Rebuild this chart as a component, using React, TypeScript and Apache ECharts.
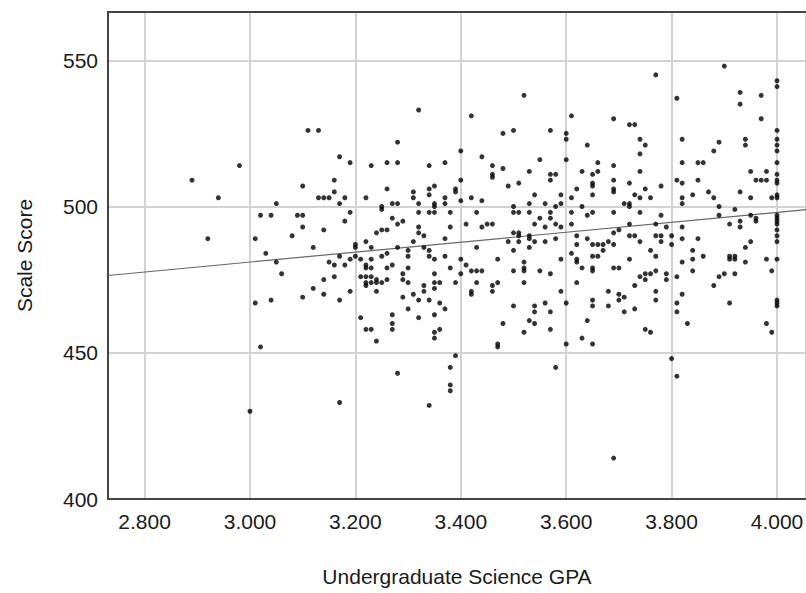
import React, { useEffect, useRef } from "react";
import * as echarts from "echarts";

// Axis ticks
const xTickValues = [2.8, 3.0, 3.2, 3.4, 3.6, 3.8, 4.0];
const yTickValues = [400, 450, 500, 550];
const xAxisName = "Undergraduate Science GPA";
const yAxisName = "Scale Score";

// Fit line: score = intercept + slope * GPA
const fitIntercept = 430.0;
const fitSlope = 17.0;

// [Undergraduate Science GPA, Scale Score]
const studentsBelow325: [number, number][] = [
  [2.89, 509], [2.92, 489], [2.94, 503], [2.98, 514], [3.0, 430], [3.01, 489], [3.01, 467], [3.02, 497],
  [3.02, 452], [3.03, 484], [3.04, 497], [3.04, 468], [3.05, 501], [3.05, 481], [3.06, 477], [3.08, 490],
  [3.09, 497], [3.1, 497], [3.1, 507], [3.1, 493], [3.1, 469], [3.11, 526], [3.12, 486], [3.12, 472],
  [3.13, 526], [3.13, 503], [3.14, 503], [3.14, 492], [3.14, 475], [3.14, 470], [3.15, 503], [3.15, 481],
  [3.16, 509], [3.16, 505], [3.16, 480], [3.16, 476], [3.17, 517], [3.17, 501], [3.17, 483], [3.17, 468],
  [3.17, 433], [3.18, 503], [3.18, 495], [3.18, 480], [3.19, 515], [3.19, 498], [3.19, 482], [3.19, 471],
  [3.2, 487], [3.2, 486], [3.2, 483], [3.21, 482], [3.21, 476], [3.21, 462], [3.22, 503], [3.22, 488],
  [3.22, 480], [3.22, 479], [3.22, 476], [3.22, 474], [3.22, 473], [3.22, 458], [3.23, 514], [3.23, 486],
  [3.23, 482], [3.23, 479], [3.23, 476], [3.23, 474], [3.23, 458], [3.24, 491], [3.24, 475], [3.24, 474],
  [3.24, 471], [3.24, 454],
];
const students325to350: [number, number][] = [
  [3.25, 500], [3.25, 499], [3.25, 492], [3.25, 483], [3.25, 474], [3.26, 515], [3.26, 506], [3.26, 492],
  [3.26, 484], [3.26, 479], [3.26, 475], [3.27, 501], [3.27, 496], [3.27, 480], [3.27, 463], [3.27, 460],
  [3.27, 458], [3.28, 522], [3.28, 515], [3.28, 501], [3.28, 494], [3.28, 486], [3.28, 443], [3.29, 495],
  [3.29, 477], [3.29, 475], [3.29, 469], [3.3, 485], [3.3, 483], [3.3, 479], [3.3, 474], [3.3, 465],
  [3.31, 505], [3.31, 503], [3.31, 488], [3.31, 470], [3.32, 533], [3.32, 501], [3.32, 498], [3.32, 493],
  [3.32, 491], [3.32, 468], [3.32, 462], [3.33, 490], [3.33, 486], [3.33, 473], [3.33, 471], [3.34, 514],
  [3.34, 506], [3.34, 504], [3.34, 498], [3.34, 485], [3.34, 483], [3.34, 468], [3.34, 432], [3.35, 507],
  [3.35, 501], [3.35, 500], [3.35, 498], [3.35, 482], [3.35, 477], [3.35, 474], [3.35, 472], [3.35, 463],
  [3.35, 457], [3.35, 455], [3.36, 474], [3.36, 467], [3.36, 458], [3.37, 515], [3.37, 503], [3.37, 501],
  [3.37, 489], [3.37, 483], [3.37, 465], [3.38, 498], [3.38, 493], [3.38, 479], [3.38, 445], [3.38, 439],
  [3.38, 437], [3.39, 506], [3.39, 505], [3.39, 474], [3.39, 449], [3.4, 519], [3.4, 509], [3.4, 502],
  [3.4, 482], [3.4, 477], [3.41, 494], [3.41, 480], [3.42, 531], [3.42, 503], [3.42, 478], [3.42, 471],
  [3.42, 470], [3.43, 498], [3.43, 486], [3.43, 478], [3.43, 474], [3.44, 517], [3.44, 502], [3.44, 493],
  [3.44, 478], [3.45, 494], [3.46, 514], [3.46, 511], [3.46, 510], [3.46, 494], [3.46, 473], [3.46, 471],
  [3.47, 482], [3.47, 474], [3.47, 453], [3.47, 452], [3.48, 525], [3.48, 513], [3.48, 460], [3.49, 507],
  [3.49, 488],
];
const students350to375: [number, number][] = [
  [3.5, 526], [3.5, 500], [3.5, 498], [3.5, 491], [3.5, 485], [3.5, 478], [3.5, 466], [3.51, 508],
  [3.51, 498], [3.51, 491], [3.51, 490], [3.51, 488], [3.52, 538], [3.52, 481], [3.52, 479], [3.52, 478],
  [3.52, 474], [3.52, 457], [3.53, 512], [3.53, 501], [3.53, 498], [3.53, 490], [3.53, 489], [3.53, 486],
  [3.53, 461], [3.54, 504], [3.54, 494], [3.54, 488], [3.54, 466], [3.54, 464], [3.54, 460], [3.55, 516],
  [3.55, 496], [3.55, 478], [3.56, 501], [3.56, 493], [3.56, 488], [3.56, 467], [3.57, 526], [3.57, 511],
  [3.57, 509], [3.57, 498], [3.57, 496], [3.57, 477], [3.57, 464], [3.57, 458], [3.58, 511], [3.58, 500],
  [3.58, 494], [3.58, 489], [3.58, 445], [3.59, 504], [3.59, 501], [3.59, 493], [3.59, 482], [3.59, 471],
  [3.6, 525], [3.6, 523], [3.6, 516], [3.6, 467], [3.6, 453], [3.61, 531], [3.61, 503], [3.61, 498],
  [3.61, 494], [3.61, 484], [3.62, 506], [3.62, 490], [3.62, 487], [3.62, 482], [3.62, 481], [3.62, 474],
  [3.63, 512], [3.63, 500], [3.63, 479], [3.63, 455], [3.64, 521], [3.64, 497], [3.64, 489], [3.64, 461],
  [3.65, 511], [3.65, 508], [3.65, 507], [3.65, 504], [3.65, 498], [3.65, 487], [3.65, 483], [3.65, 479],
  [3.65, 478], [3.65, 468], [3.65, 466], [3.65, 453], [3.66, 515], [3.66, 512], [3.66, 487], [3.66, 483],
  [3.67, 487], [3.67, 485], [3.68, 488], [3.68, 471], [3.68, 466], [3.69, 530], [3.69, 514], [3.69, 509],
  [3.69, 506], [3.69, 505], [3.69, 498], [3.69, 491], [3.69, 487], [3.69, 479], [3.69, 414], [3.7, 492],
  [3.7, 479], [3.7, 470], [3.7, 468], [3.71, 501], [3.71, 469], [3.71, 464], [3.72, 528], [3.72, 508],
  [3.72, 501], [3.72, 500], [3.72, 494], [3.72, 490], [3.72, 482], [3.73, 528], [3.73, 504], [3.73, 490],
  [3.73, 473], [3.73, 465], [3.74, 523], [3.74, 518], [3.74, 512], [3.74, 503], [3.74, 498], [3.74, 488],
  [3.74, 476],
];
const studentsFrom375: [number, number][] = [
  [3.75, 521], [3.75, 506], [3.75, 477], [3.75, 475], [3.75, 458], [3.76, 503], [3.76, 485], [3.76, 477],
  [3.76, 457], [3.77, 545], [3.77, 494], [3.77, 490], [3.77, 483], [3.77, 478], [3.77, 471], [3.77, 468],
  [3.78, 507], [3.78, 497], [3.78, 490], [3.78, 488], [3.79, 493], [3.79, 477], [3.79, 475], [3.8, 490],
  [3.8, 487], [3.8, 448], [3.81, 537], [3.81, 509], [3.81, 476], [3.81, 467], [3.81, 464], [3.81, 442],
  [3.82, 523], [3.82, 515], [3.82, 508], [3.82, 503], [3.82, 501], [3.82, 493], [3.82, 489], [3.82, 481],
  [3.82, 470], [3.83, 460], [3.84, 504], [3.84, 485], [3.84, 482], [3.84, 478], [3.85, 515], [3.85, 509],
  [3.85, 489], [3.86, 515], [3.86, 483], [3.87, 505], [3.88, 519], [3.88, 503], [3.88, 473], [3.89, 522],
  [3.89, 500], [3.89, 497], [3.89, 476], [3.9, 548], [3.9, 477], [3.91, 494], [3.91, 483], [3.91, 482],
  [3.91, 467], [3.92, 499], [3.92, 483], [3.92, 482], [3.92, 477], [3.93, 539], [3.93, 535], [3.93, 505],
  [3.93, 495], [3.93, 493], [3.94, 523], [3.94, 521], [3.94, 486], [3.94, 481], [3.95, 512], [3.95, 503],
  [3.95, 497], [3.95, 488], [3.96, 509], [3.96, 496], [3.96, 495], [3.97, 538], [3.97, 530], [3.97, 509],
  [3.98, 512], [3.98, 509], [3.98, 482], [3.98, 460], [3.99, 503], [3.99, 478], [3.99, 457],
  [4.0, 543], [4.0, 541], [4.0, 526], [4.0, 523], [4.0, 521], [4.0, 519], [4.0, 515], [4.0, 511],
  [4.0, 509], [4.0, 508], [4.0, 504], [4.0, 503], [4.0, 497], [4.0, 496], [4.0, 495], [4.0, 494],
  [4.0, 492], [4.0, 490], [4.0, 488], [4.0, 482], [4.0, 468], [4.0, 467], [4.0, 466],
];

const X_MIN = 2.7306;
const X_MAX = 4.055;
const Y_MIN = 400;
const Y_MAX = 566.5;

const allStudents = [...studentsBelow325, ...students325to350, ...students350to375, ...studentsFrom375];

export default function App() {
  const ref = useRef<HTMLDivElement>(null);
  useEffect(() => {
    if (!ref.current) return;
    const chart = echarts.init(ref.current, null, { renderer: "svg" });
    const fit = [X_MIN, X_MAX].map((x) => [x, fitIntercept + fitSlope * x]);
    const font = "'Liberation Sans', Arial, sans-serif";
    chart.setOption({
      animation: false,
      backgroundColor: "#ffffff",
      grid: { left: 108, right: 0, top: 12, bottom: 94, containLabel: false, outerBoundsMode: "none" },
      xAxis: [
        {
          type: "value",
          min: X_MIN,
          max: X_MAX,
          splitNumber: 7,
          minInterval: 0.2,
          maxInterval: 0.2,
          name: xAxisName,
          nameLocation: "middle",
          nameGap: 67,
          nameTextStyle: { fontFamily: font, fontSize: 21, color: "#1a1a1a" },
          axisLine: { show: true, onZero: false, lineStyle: { color: "#444", width: 2 } },
          axisTick: { show: false },
          axisLabel: {
            fontFamily: font,
            fontSize: 21,
            color: "#1a1a1a",
            margin: 12,
            showMinLabel: false,
            showMaxLabel: false,
            formatter: (v: number) =>
              xTickValues.some((t) => Math.abs(t - v) < 1e-6) ? v.toFixed(3) : "",
          },
          splitLine: { show: true, lineStyle: { color: "#d2d2d2", width: 2 } },
        },
        {
          type: "value",
          position: "top",
          min: X_MIN,
          max: X_MAX,
          axisLine: { show: true, lineStyle: { color: "#444", width: 2 } },
          axisTick: { show: false },
          axisLabel: { show: false },
          splitLine: { show: false },
        },
      ],
      yAxis: {
        type: "value",
        min: Y_MIN,
        max: Y_MAX,
        interval: 50,
        name: yAxisName,
        nameLocation: "middle",
        nameGap: 73,
        nameTextStyle: { fontFamily: font, fontSize: 21, color: "#1a1a1a" },
        axisLine: { show: true, onZero: false, lineStyle: { color: "#444", width: 2 } },
        axisTick: { show: false },
        axisLabel: {
          fontFamily: font,
          fontSize: 21,
          color: "#1a1a1a",
          margin: 10,
          padding: [8, 0, 0, 0],
          formatter: (v: number) => (yTickValues.includes(v) ? String(v) : ""),
        },
        splitLine: { show: true, lineStyle: { color: "#d2d2d2", width: 2 } },
      },
      series: [
        {
          type: "line",
          data: fit,
          symbol: "none",
          lineStyle: { color: "#666", width: 1.2 },
          z: 3,
          silent: true,
        },
        {
          type: "scatter",
          data: allStudents,
          symbol: "circle",
          symbolSize: 5,
          itemStyle: { color: "#000" },
          z: 4,
        },
      ],
    });
    return () => chart.dispose();
  }, []);
  return (
    <div
      ref={ref}
      style={{ position: "absolute", left: 0, top: 0, width: 806, height: 593 }}
    />
  );
}
